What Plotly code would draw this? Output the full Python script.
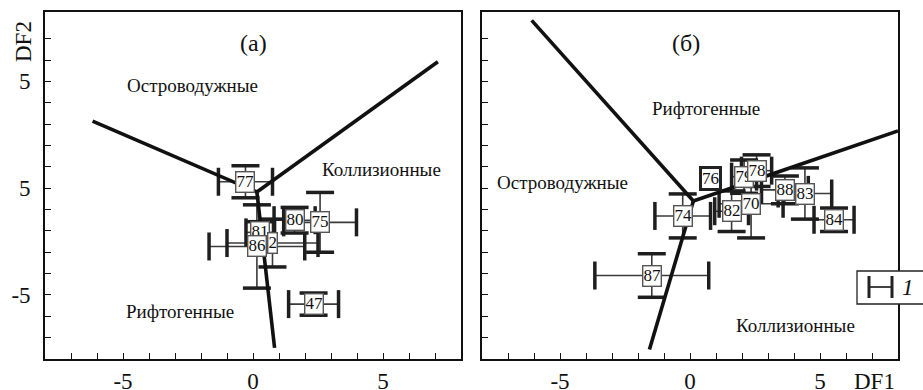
import plotly.graph_objects as go

# ---- data -------------------------------------------------------------
# panel (a): sample means with 1-sigma uncertainty on DF1 / DF2
labels_a = ["77", "80", "75", "81", "86", "2", "47"]
df1_a = [-0.29, 1.60, 2.58, 0.28, 0.15, 0.75, 2.33]
df2_a = [0.30, -1.50, -1.60, -2.07, -2.73, -2.57, -5.43]
err1_a = [1.04, 0.79, 1.40, 0.55, 1.84, 1.75, 0.96]
err2_a = [0.75, 0.60, 1.40, 0.50, 1.95, 1.12, 0.52]

# panel (б)
labels_b = ["76", "79", "78", "74", "82", "70", "88", "83", "84", "87"]
df1_b = [0.77, 2.08, 2.56, -0.28, 1.60, 2.35, 3.65, 4.42, 5.54, -1.47]
df2_b = [0.47, 0.54, 0.82, -1.30, -1.08, -0.73, -0.08, -0.25, -1.48, -4.09]
err1_b = [0.0, 0.48, 0.58, 1.07, 0.65, 1.23, 0.90, 1.03, 0.77, 2.19]
err2_b = [0.0, 0.78, 0.74, 1.03, 0.95, 1.60, 0.65, 1.20, 0.55, 1.02]

# discrimination boundaries: three branches from a common junction
junction_a = (0.15, -0.18)
ends_a = [(-6.17, 3.14), (7.11, 5.92), (0.83, -7.48)]
junction_b = (0.13, -0.60)
ends_b = [(-6.09, 7.86), (8.0, 2.68), (-1.56, -7.56)]

# field names
fields_a = [("Островодужные", -2.31, 4.83), ("Коллизионные", 4.93, 0.86),
            ("Рифтогенные", -2.81, -5.78)]
fields_b = [("Рифтогенные", 0.62, 3.75), ("Островодужные", -4.92, 0.25),
            ("Коллизионные", 4.04, -6.43)]

tick_vals = list(range(-7, 8))
x_ticktext = {-5: "-5", 0: "0", 5: "5"}
y_ticktext = {-5: "-5", 0: "5", 5: "5"}

SERIF = "Liberation Serif"
W, H = 923, 390

fig = go.Figure()


def add_panel(xs, ys, ex, ey, junction, ends, xa, ya):
    # thin error bars
    fig.add_trace(go.Scatter(
        x=xs, y=ys, mode="markers", xaxis=xa, yaxis=ya,
        marker=dict(size=1, color="rgba(0,0,0,0)"),
        error_x=dict(type="data", array=ex, visible=True, thickness=1.6,
                     width=0, color="#3a3a3a"),
        error_y=dict(type="data", array=ey, visible=True, thickness=1.6,
                     width=0, color="#3a3a3a"),
        showlegend=False, hoverinfo="skip"))
    # heavy caps at the ends of each bar
    cx, cy, rx, ry = [], [], [], []
    for x, y, a, b in zip(xs, ys, ex, ey):
        if a > 0:
            cx += [x - a, x + a]
            cy += [y, y]
        if b > 0:
            rx += [x, x]
            ry += [y - b, y + b]
    fig.add_trace(go.Scatter(
        x=cx, y=cy, mode="markers", xaxis=xa, yaxis=ya,
        marker=dict(symbol="line-ns", size=20,
                    line=dict(width=3.5, color="#1e1e1e")),
        showlegend=False, hoverinfo="skip"))
    fig.add_trace(go.Scatter(
        x=rx, y=ry, mode="markers", xaxis=xa, yaxis=ya,
        marker=dict(symbol="line-ew", size=20,
                    line=dict(width=3.5, color="#1e1e1e")),
        showlegend=False, hoverinfo="skip"))
    # boundaries
    for ex_, ey_ in ends:
        fig.add_trace(go.Scatter(
            x=[junction[0], ex_], y=[junction[1], ey_], mode="lines",
            xaxis=xa, yaxis=ya, line=dict(color="#111", width=3.6),
            showlegend=False, hoverinfo="skip"))


add_panel(df1_a, df2_a, err1_a, err2_a, junction_a, ends_a, "x", "y")
add_panel(df1_b, df2_b, err1_b, err2_b, junction_b, ends_b, "x2", "y2")

annotations = []


def label_boxes(labels, xs, ys, xr, yr, heavy=()):
    for lab, x, y in zip(labels, xs, ys):
        thick = lab in heavy
        annotations.append(dict(
            x=x, y=y, xref=xr, yref=yr, text=lab, showarrow=False,
            xanchor="center", yanchor="middle",
            font=dict(family=SERIF, size=17, color="#111"),
            bgcolor="white", bordercolor="#222" if thick else "#555",
            borderwidth=3 if thick else 1.4, borderpad=0))


label_boxes(labels_a, df1_a, df2_a, "x", "y")
label_boxes(labels_b, df1_b, df2_b, "x2", "y2", heavy=("76",))

for text, x, y in fields_a:
    annotations.append(dict(x=x, y=y, xref="x", yref="y", text=text,
                            showarrow=False, xanchor="center",
                            yanchor="middle",
                            font=dict(family=SERIF, size=19, color="#111")))
for text, x, y in fields_b:
    annotations.append(dict(x=x, y=y, xref="x2", yref="y2", text=text,
                            showarrow=False, xanchor="center",
                            yanchor="middle",
                            font=dict(family=SERIF, size=19, color="#111")))

# panel captions and axis titles
C = dict(xanchor="center", yanchor="middle", showarrow=False)
annotations += [
    dict(x=0, y=6.8, xref="x", yref="y", text="(a)",
         font=dict(family=SERIF, size=24, color="#111"), **C),
    dict(x=-0.15, y=6.8, xref="x2", yref="y2", text="(б)",
         font=dict(family=SERIF, size=24, color="#111"), **C),
    dict(x=23 / W, y=1 - 42 / H, xref="paper", yref="paper", text="DF2",
         textangle=-90, font=dict(family=SERIF, size=23, color="#111"), **C),
    dict(x=874 / W, y=1 - 381 / H, xref="paper", yref="paper", text="DF1",
         font=dict(family=SERIF, size=23, color="#111"), **C),
    dict(x=908 / W, y=1 - 287 / H, xref="paper", yref="paper", text="<i>1</i>",
         font=dict(family=SERIF, size=23, color="#111"), **C),
]

# legend box with an error-bar glyph
shapes = [
    dict(type="rect", xref="paper", yref="paper", x0=857 / W, x1=1.01,
         y0=1 - 304 / H, y1=1 - 271 / H, fillcolor="white",
         line=dict(color="#222", width=1.3), layer="above"),
    dict(type="line", xref="paper", yref="paper", x0=869 / W, x1=892 / W,
         y0=1 - 287 / H, y1=1 - 287 / H, line=dict(color="#444", width=2),
         layer="above"),
    dict(type="line", xref="paper", yref="paper", x0=869 / W, x1=869 / W,
         y0=1 - 298 / H, y1=1 - 276 / H, line=dict(color="#222", width=3),
         layer="above"),
    dict(type="line", xref="paper", yref="paper", x0=892 / W, x1=892 / W,
         y0=1 - 298 / H, y1=1 - 276 / H, line=dict(color="#222", width=3),
         layer="above"),
]

y_dom = [1 - 359 / H, 1 - 12 / H]


def xaxis(domain, anchor):
    return dict(domain=domain, anchor=anchor, range=[-8, 8],
                tickvals=tick_vals,
                ticktext=[x_ticktext.get(v, "") for v in tick_vals],
                ticks="inside", ticklen=6, tickwidth=1.2, tickcolor="#111",
                showline=True, mirror=True, linecolor="#111", linewidth=1.6,
                showgrid=False, zeroline=False, ticklabelstandoff=1,
                automargin=False,
                tickfont=dict(family=SERIF, size=23, color="#111"),
                fixedrange=True)


def yaxis(anchor, labelled):
    return dict(domain=y_dom, anchor=anchor, range=[-8, 8.25],
                tickvals=tick_vals,
                ticktext=[y_ticktext.get(v, "") if labelled else ""
                          for v in tick_vals],
                ticks="inside", ticklen=6, tickwidth=1.2, tickcolor="#111",
                showline=True, mirror=True, linecolor="#111", linewidth=1.6,
                showgrid=False, zeroline=False, ticklabelstandoff=8,
                automargin=False,
                tickfont=dict(family=SERIF, size=23, color="#111"),
                fixedrange=True)


fig.update_layout(
    width=W, height=H, margin=dict(l=0, r=0, t=0, b=0),
    paper_bgcolor="white", plot_bgcolor="white",
    xaxis=xaxis([45 / W, 461 / W], "y"),
    yaxis=yaxis("x", True),
    xaxis2=xaxis([482 / W, 898 / W], "y2"),
    yaxis2=yaxis("x2", False),
    annotations=annotations, shapes=shapes, showlegend=False,
)

fig.write_html("out.html")
